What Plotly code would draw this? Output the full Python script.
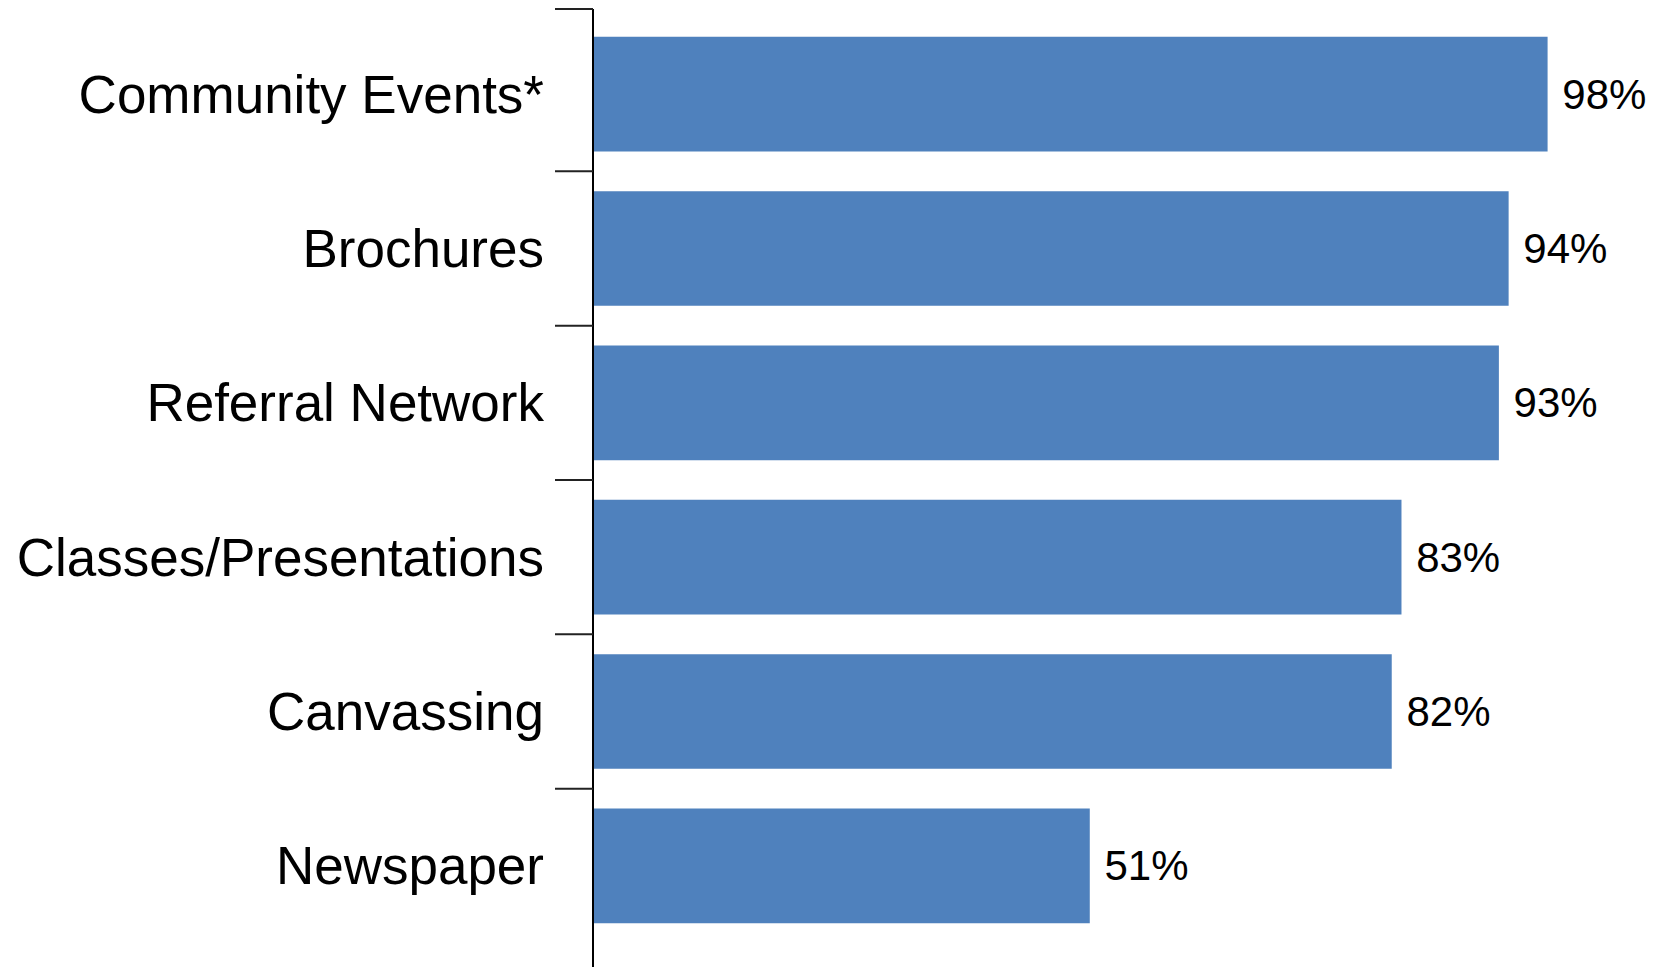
import plotly.graph_objects as go

categories = ["Community Events*", "Brochures", "Referral Network",
              "Classes/Presentations", "Canvassing", "Newspaper"]
values = [0.98, 0.94, 0.93, 0.83, 0.82, 0.51]

W, H = 1663, 967
ML, MR, MT, MB = 593, 18, 17, 24
plot_w = W - ML - MR
plot_h = H - MT - MB
top_ext = 8 / plot_h

fig = go.Figure(go.Bar(
    x=values, y=categories, orientation="h",
    marker=dict(color="#4F81BD", line=dict(width=0)),
    texttemplate="\u00a0%{x:.0%}", textposition="outside",
    textangle=0, constraintext="none", cliponaxis=False,
    textfont=dict(family="Liberation Sans, Arial, sans-serif", size=42, color="black"),
    hoverinfo="skip",
))

shapes = [dict(type="line", xref="paper", yref="paper",
               x0=0, x1=0, y0=-MB / plot_h, y1=1 + top_ext,
               line=dict(color="black", width=2)),
          dict(type="line", xref="paper", yref="paper",
               x0=-38 / plot_w, x1=0, y0=1 + top_ext, y1=1 + top_ext,
               line=dict(color="#222222", width=2))]
for i in range(1, len(categories)):
    shapes.append(dict(type="line", xref="paper", yref="y",
                       x0=-38 / plot_w, x1=0, y0=i - 0.5, y1=i - 0.5,
                       line=dict(color="#222222", width=2)))

fig.update_layout(
    width=W, height=H,
    margin=dict(l=ML, r=MR, t=MT, b=MB, pad=0, autoexpand=False),
    paper_bgcolor="white", plot_bgcolor="white",
    showlegend=False, bargap=0.2575,
    font=dict(family="Liberation Sans, Arial, sans-serif", color="black"),
    xaxis=dict(range=[0, 1.08], visible=False, fixedrange=True),
    yaxis=dict(autorange="reversed", showline=False, showgrid=False,
               ticks="", ticklabelstandoff=48, automargin=False,
               tickfont=dict(family="Liberation Sans, Arial, sans-serif", size=53, color="black"),
               fixedrange=True),
    shapes=shapes,
)

fig.write_html("out.html", config={"displayModeBar": False})
